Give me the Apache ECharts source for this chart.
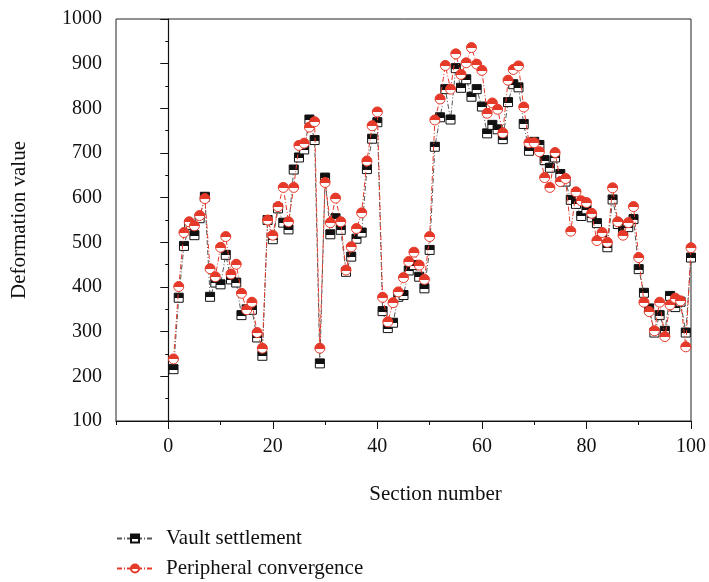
<!DOCTYPE html>
<html>
<head>
<meta charset="utf-8">
<script src="https://cdn.jsdelivr.net/npm/echarts@6/dist/echarts.min.js"></script>
<style>
  html, body { margin: 0; padding: 0; background: #fff; }
  #container { width: 709px; height: 582px; }
</style>
</head>
<body>
<div id="container"></div>
<script>
// section numbers 1..100
var sections = [];
for (var i = 1; i <= 100; i++) sections.push(i);

var vault = [
    216, 376, 492, 539, 516, 554, 602, 378, 410, 406,
    472, 417, 410, 337, 350, 349, 287, 246, 550, 507,
    576, 544, 529, 663, 690, 708, 775, 729, 229, 645,
    518, 554, 528, 434, 468, 508, 522, 664, 732, 769,
    346, 308, 320, 378, 382, 437, 449, 423, 397, 483,
    714, 780, 843, 775, 890, 846, 865, 826, 843, 804,
    744, 763, 753, 731, 814, 854, 847, 765, 705, 725,
    718, 684, 667, 690, 653, 636, 595, 586, 559, 574,
    556, 543, 513, 489, 596, 541, 526, 534, 552, 440,
    387, 352, 298, 337, 302, 380, 355, 367, 298, 466
];
var peripheral = [
    239, 401, 522, 546, 537, 560, 598, 441, 423, 489,
    513, 429, 451, 386, 349, 366, 298, 263, 550, 516,
    580, 623, 546, 623, 717, 722, 758, 770, 263, 634,
    544, 599, 546, 438, 490, 531, 566, 682, 761, 792,
    377, 322, 365, 389, 421, 457, 478, 449, 417, 513,
    774, 821, 896, 843, 922, 876, 902, 936, 899, 885,
    789, 812, 798, 745, 863, 887, 895, 803, 723, 723,
    703, 645, 623, 701, 636, 643, 525, 613, 593, 589,
    565, 504, 522, 500, 622, 546, 516, 544, 580, 466,
    366, 345, 302, 366, 289, 360, 375, 369, 266, 488
];
var seriesNames = ['Vault settlement', 'Peripheral convergence'];
var xMajorTicks = [0, 20, 40, 60, 80, 100];

function pairs(vals) {
    return sections.map(function (s, k) { return [s, vals[k]]; });
}
function halfFill(c) {
    return {
        type: 'linear', x: 0, y: 0, x2: 0, y2: 1,
        colorStops: [
            { offset: 0, color: c }, { offset: 0.55, color: c },
            { offset: 0.55, color: '#fff' }, { offset: 1, color: '#fff' }
        ]
    };
}

var font = 'Liberation Serif';
var myChart = echarts.init(document.getElementById('container'));

var option = {
    animation: false,
    textStyle: { fontFamily: font },
    grid: {
        left: 116, right: 14, top: 19, bottom: 161,
        show: true, borderColor: '#222', borderWidth: 1
    },
    legend: {
        orient: 'vertical',
        left: 116, top: 528, padding: 0,
        itemWidth: 36, itemHeight: 10, itemGap: 9,
        textStyle: { fontFamily: font, fontSize: 21, color: '#111', padding: [0, 0, 0, 8] },
        data: seriesNames
    },
    xAxis: [{
        type: 'value', min: -10, max: 100, interval: 10,
        name: 'Section number', nameLocation: 'middle', nameGap: 63,
        nameTextStyle: { fontFamily: font, fontSize: 21, color: '#111', padding: [0, 0, 0, 64] },
        axisLine: { lineStyle: { color: '#111', width: 1.2 } },
        axisTick: { show: true, length: 4, lineStyle: { color: '#111' } },
        axisLabel: {
            customValues: xMajorTicks, margin: 16,
            fontFamily: font, fontSize: 20, color: '#111'
        },
        splitLine: { show: false }
    }, {
        type: 'value', min: -10, max: 100, position: 'bottom',
        axisLine: { show: false },
        axisTick: { show: true, length: 8, customValues: xMajorTicks, lineStyle: { color: '#111' } },
        axisLabel: { show: false },
        splitLine: { show: false }
    }],
    yAxis: {
        type: 'value', min: 100, max: 1000, interval: 100,
        name: 'Deformation value', nameLocation: 'middle', nameGap: 86,
        nameTextStyle: { fontFamily: font, fontSize: 21, color: '#111' },
        axisLine: { show: true, lineStyle: { color: '#111', width: 1.2 } },
        axisTick: { show: true, length: 8, lineStyle: { color: '#111' } },
        minorTick: { show: true, splitNumber: 2, length: 3, lineStyle: { color: '#111' } },
        axisLabel: {
            margin: 14, fontFamily: font, fontSize: 20, color: '#111',
            formatter: function (v) { return String(v); }
        },
        splitLine: { show: false }
    },
    series: [{
        name: seriesNames[0],
        type: 'line',
        data: pairs(vault),
        symbol: 'rect', symbolSize: 9,
        itemStyle: { color: halfFill('#111'), borderColor: '#111', borderWidth: 1 },
        lineStyle: { color: '#555', width: 1, type: [5, 2, 1, 2] },
        z: 2
    }, {
        name: seriesNames[1],
        type: 'line',
        data: pairs(peripheral),
        symbol: 'circle', symbolSize: 10,
        itemStyle: { color: halfFill('#e53a2a'), borderColor: '#e53a2a', borderWidth: 1 },
        lineStyle: { color: '#e53a2a', width: 1, type: [5, 2, 1, 2] },
        z: 3
    }]
};
myChart.setOption(option, true);
</script>
</body>
</html>
